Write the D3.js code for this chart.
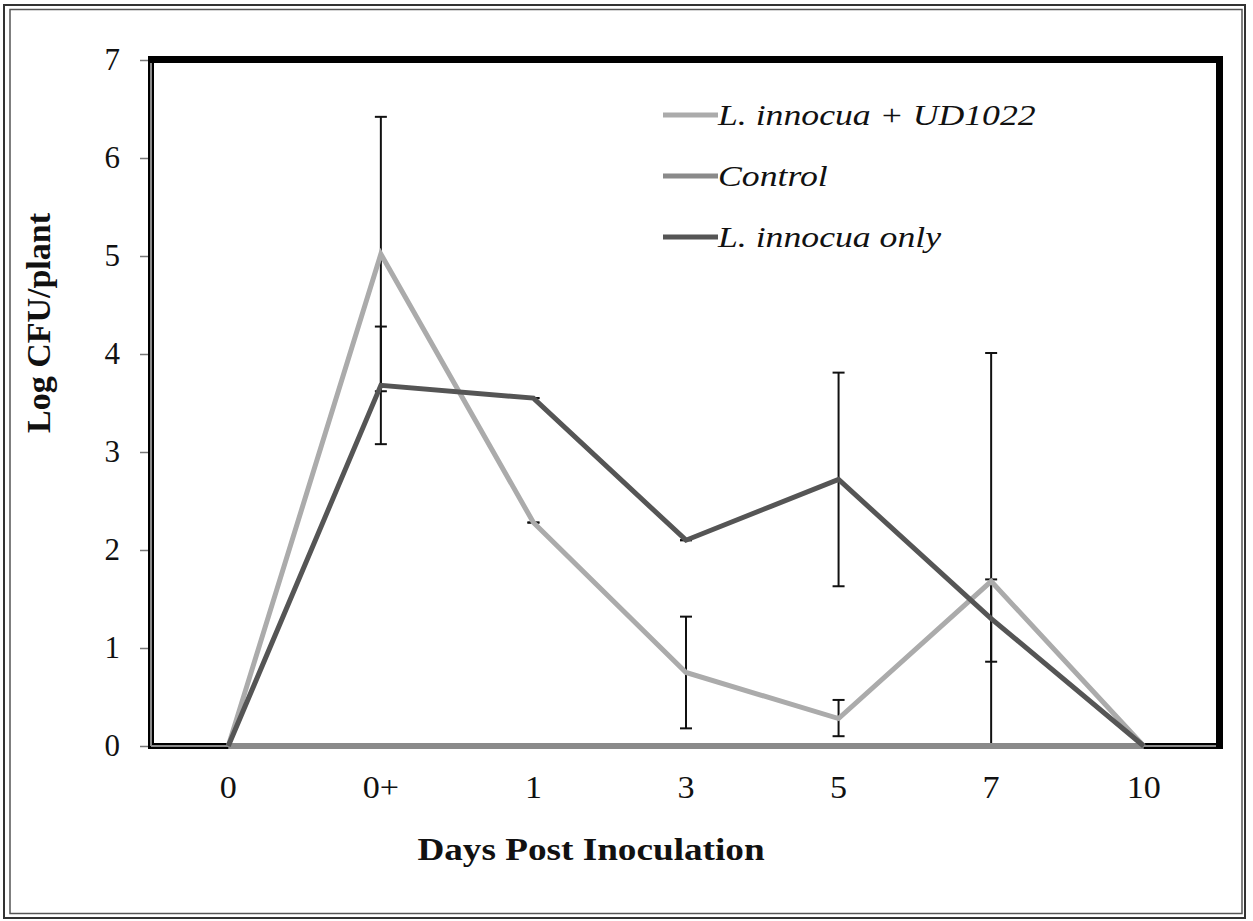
<!DOCTYPE html>
<html>
<head>
<meta charset="utf-8">
<script src="https://cdn.jsdelivr.net/npm/d3@7"></script>
<style>
  body { margin: 0; background: #fff; }
  text { font-family: "Liberation Serif", "Times New Roman", serif; fill: #111; }
</style>
</head>
<body>
<div id="chart"></div>
<script>
const days = ['0', '0+', '1', '3', '5', '7', '10'];
const yTicks = [0, 1, 2, 3, 4, 5, 6, 7];

const seriesNames = ['L. innocua + UD1022', 'Control', 'L. innocua only'];
const udValues = [0, 5.02, 2.28, 0.75, 0.28, 1.68, 0];
const udLow = [null, 3.62, 2.28, 0.18, 0.10, 0.86, null];
const udHigh = [null, 6.42, 2.28, 1.32, 0.47, 1.70, null];
const controlValues = [0, 0, 0, 0, 0, 0, 0];
const onlyValues = [0, 3.68, 3.55, 2.10, 2.72, 1.30, 0];
const onlyLow = [null, 3.08, 3.55, 2.10, 1.63, 0, null];
const onlyHigh = [null, 4.28, 3.55, 2.10, 3.81, 4.01, null];

const w = 1253;
const h = 921;
const colors = ['#ababab', '#8a8a8a', '#555555'];

const svg = d3.select('#chart')
              .append('svg')
              .attr('width', w)
              .attr('height', h);

// outer double frame
svg.append('rect')
   .attr('x', 4).attr('y', 5).attr('width', 1241).attr('height', 913)
   .attr('fill', 'none').attr('stroke', '#333').attr('stroke-width', 2);
svg.append('rect')
   .attr('x', 10).attr('y', 9.5).attr('width', 1232).attr('height', 904)
   .attr('fill', 'none').attr('stroke', '#555').attr('stroke-width', 1.5);

const xScale = d3.scaleBand()
                 .domain(days)
                 .range([152, 1220]);

const yScale = d3.scaleLinear()
                 .domain([0, 7])
                 .range([746, 60]);

const cx = (i) => xScale(days[i]) + xScale.bandwidth() / 2;

// y axis ticks + labels
const yAxis = d3.axisLeft(yScale)
                .tickValues(yTicks)
                .tickFormat(d3.format('d'))
                .tickSize(11)
                .tickPadding(20);

const gy = svg.append('g')
   .attr('id', 'y-axis')
   .attr('transform', 'translate(151,0)')
   .call(yAxis);
gy.select('.domain').remove();
gy.selectAll('line').attr('stroke', '#777').attr('stroke-width', 1.5);
gy.selectAll('text')
  .style('font-size', '31px')
  .style('font-family', '"Liberation Serif", serif')
  .attr('fill', '#111');

// x axis labels
const xAxis = d3.axisBottom(xScale).tickSize(0).tickPadding(30);
const gx = svg.append('g')
   .attr('id', 'x-axis')
   .attr('transform', 'translate(0,746)')
   .call(xAxis);
gx.select('.domain').remove();
gx.selectAll('text')
  .style('font-size', '31px')
  .style('font-family', '"Liberation Serif", serif')
  .attr('fill', '#111')
  .attr('transform', 'scale(1.1,1)');

// plot area border
svg.append('rect')
   .attr('x', 151).attr('y', 59.5).attr('width', 1068.5).attr('height', 686.5)
   .attr('fill', 'none').attr('stroke', '#000').attr('stroke-width', 6);
svg.append('line')
   .attr('x1', 148).attr('x2', 1223).attr('y1', 59.5).attr('y2', 59.5)
   .attr('stroke', '#000').attr('stroke-width', 7);
svg.append('line')
   .attr('x1', 1219.5).attr('x2', 1219.5).attr('y1', 56).attr('y2', 749)
   .attr('stroke', '#000').attr('stroke-width', 7);
svg.append('line')
   .attr('x1', 151).attr('x2', 151).attr('y1', 63).attr('y2', 746)
   .attr('stroke', '#8a8a8a').attr('stroke-width', 2);
svg.append('line')
   .attr('x1', 151).attr('x2', 1216).attr('y1', 746).attr('y2', 746)
   .attr('stroke', '#8a8a8a').attr('stroke-width', 2);

// error bars
const errs = [[udLow, udHigh], [onlyLow, onlyHigh]];
errs.forEach(function (e) {
  const lo = e[0], hi = e[1];
  const idx = d3.range(days.length).filter((i) => lo[i] !== null);
  const g = svg.append('g').attr('stroke', '#111').attr('stroke-width', 2);
  g.selectAll('line.v')
   .data(idx)
   .enter()
   .append('line')
   .attr('x1', (i) => cx(i)).attr('x2', (i) => cx(i))
   .attr('y1', (i) => yScale(lo[i])).attr('y2', (i) => yScale(hi[i]));
  g.selectAll('line.lo')
   .data(idx)
   .enter()
   .append('line')
   .attr('x1', (i) => cx(i) - 6).attr('x2', (i) => cx(i) + 6)
   .attr('y1', (i) => yScale(lo[i])).attr('y2', (i) => yScale(lo[i]));
  g.selectAll('line.hi')
   .data(idx)
   .enter()
   .append('line')
   .attr('x1', (i) => cx(i) - 6).attr('x2', (i) => cx(i) + 6)
   .attr('y1', (i) => yScale(hi[i])).attr('y2', (i) => yScale(hi[i]));
});

// series lines
const line = d3.line()
               .x((d, i) => cx(i))
               .y((d) => yScale(d));

const allSeries = [udValues, controlValues, onlyValues];
const widths = [5, 6, 5];

allSeries.forEach(function (vals, k) {
  svg.append('path')
     .datum(vals)
     .attr('d', line)
     .attr('fill', 'none')
     .attr('stroke', colors[k])
     .attr('stroke-width', widths[k])
     .attr('stroke-linejoin', 'miter');
});

// legend
const legendY = d3.scalePoint().domain(seriesNames).range([115, 237]);
const lg = svg.append('g').attr('class', 'legend');
seriesNames.forEach(function (name, k) {
  lg.append('line')
    .attr('x1', 663).attr('x2', 718)
    .attr('y1', legendY(name)).attr('y2', legendY(name))
    .attr('stroke', colors[k]).attr('stroke-width', 5);
  lg.append('text')
    .attr('transform', 'translate(718,' + (legendY(name) + 10) + ') scale(1.19,1)')
    .style('font-size', '30px')
    .style('font-style', 'italic')
    .text(name);
});

// axis titles
svg.append('text')
   .attr('transform', 'translate(591,860) scale(1.2,1)')
   .attr('text-anchor', 'middle')
   .style('font-size', '31px')
   .style('font-weight', 'bold')
   .text('Days Post Inoculation');

svg.append('text')
   .attr('transform', 'translate(50,323) rotate(-90)')
   .attr('text-anchor', 'middle')
   .style('font-size', '34px')
   .style('font-weight', 'bold')
   .text('Log CFU/plant');
</script>
</body>
</html>
